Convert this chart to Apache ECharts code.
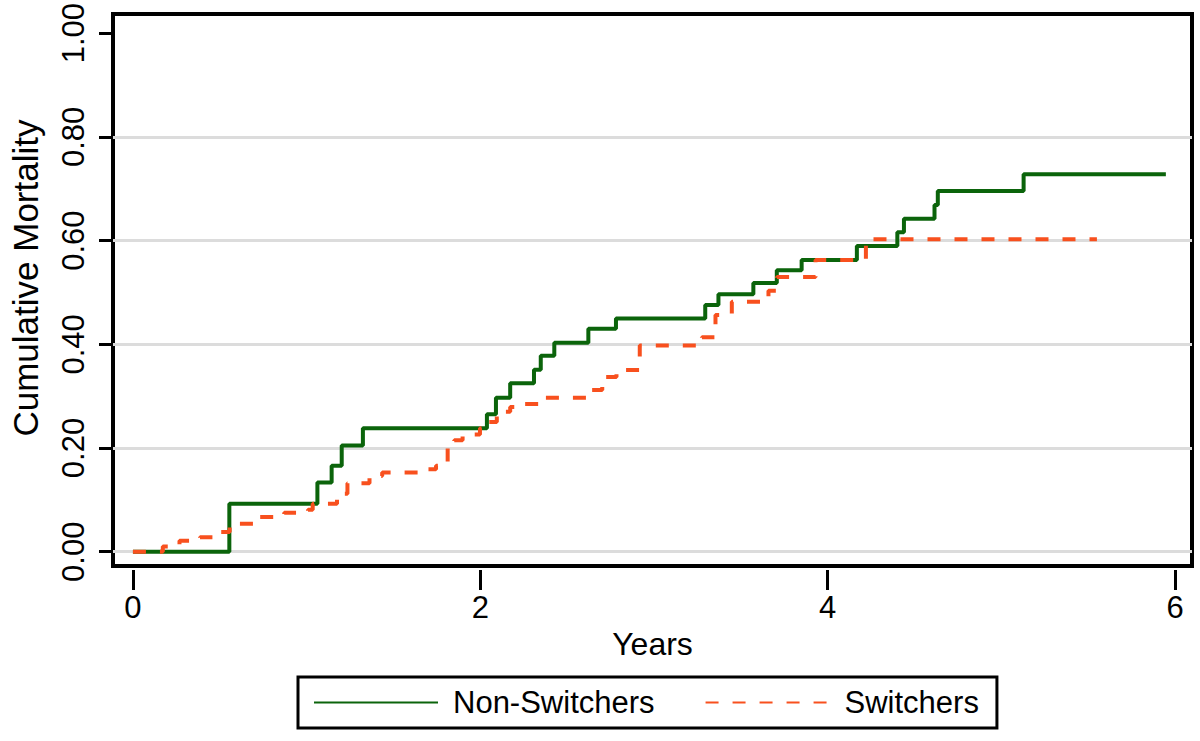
<!DOCTYPE html>
<html><head><meta charset="utf-8">
<script src="https://cdn.jsdelivr.net/npm/echarts@6/dist/echarts.min.js"></script>
<style>html,body{margin:0;padding:0;background:#fff}#c{width:1200px;height:741px}</style>
</head><body><div id="c"></div>
<script>
// ---- data ----
const seriesNames = ['Non-Switchers', 'Switchers'];
const nonSwitchTimes  = [0, 0.555, 1.062, 1.144, 1.202, 1.324, 2.038, 2.090, 2.172, 2.309, 2.348, 2.426, 2.622, 2.781, 3.295, 3.371, 3.572, 3.707, 3.850, 4.168, 4.401, 4.439, 4.615, 4.634, 5.128, 5.947];
const nonSwitchValues = [0, 0.0925, 0.1335, 0.166, 0.205, 0.238, 0.265, 0.297, 0.325, 0.351, 0.378, 0.403, 0.430, 0.450, 0.476, 0.4965, 0.518, 0.543, 0.5626, 0.5896, 0.616, 0.642, 0.6686, 0.6956, 0.728, 0.728];
const switchTimes  = [0, 0.172, 0.268, 0.386, 0.498, 0.557, 0.709, 0.871, 1.008, 1.035, 1.175, 1.235, 1.362, 1.435, 1.661, 1.745, 1.761, 1.812, 1.850, 1.898, 1.998, 2.050, 2.095, 2.130, 2.172, 2.220, 2.335, 2.620, 2.702, 2.784, 2.918, 3.276, 3.354, 3.448, 3.659, 3.708, 3.930, 4.220, 5.550];
const switchValues = [0, 0.010, 0.021, 0.028, 0.038, 0.054, 0.067, 0.075, 0.081, 0.0925, 0.112, 0.132, 0.146, 0.153, 0.159, 0.166, 0.174, 0.200, 0.215, 0.226, 0.238, 0.250, 0.261, 0.270, 0.279, 0.285, 0.297, 0.312, 0.337, 0.3507, 0.3975, 0.4137, 0.4566, 0.482, 0.5035, 0.530, 0.5626, 0.6025, 0.6025];
const xTickValues = [0, 2, 4, 6];
const yTickValues = [0, 0.2, 0.4, 0.6, 0.8, 1.0];
const yGridValues = [0, 0.2, 0.4, 0.6, 0.8];
const xTitle = 'Years';
const yTitle = 'Cumulative Mortality';

// ---- chart ----
const pairs = (t, v) => t.map((x, i) => [x, v[i]]);
const FONT = "'Liberation Sans', Arial, sans-serif";
const GREEN = '#0b640b', ORANGE = '#f8501e';

const chart = echarts.init(document.getElementById('c'), null, {renderer: 'svg', width: 1200, height: 741});
chart.setOption({
  animation: false,
  backgroundColor: '#fff',
  textStyle: {fontFamily: FONT, color: '#000'},
  grid: {left: 110, top: 13, width: 1082, height: 553, show: true, borderColor: '#000', borderWidth: 4, backgroundColor: '#fff'},
  xAxis: {
    type: 'value', min: -0.1148, max: 6.0975,
    position: 'bottom', offset: 4,
    name: xTitle, nameLocation: 'middle', nameGap: 46,
    nameTextStyle: {fontSize: 32, color: '#000', fontFamily: FONT},
    axisLine: {show: false, onZero: false},
    axisTick: {show: true, inside: false, customValues: xTickValues, length: 20, lineStyle: {color: '#000', width: 3}},
    axisLabel: {customValues: xTickValues, fontSize: 31, color: '#000', margin: 22, fontFamily: FONT},
    splitLine: {show: false}
  },
  yAxis: {
    type: 'value', min: -0.0275, max: 1.0368,
    position: 'left',
    name: yTitle, nameLocation: 'middle', nameRotate: 90, nameGap: 70,
    nameTextStyle: {fontSize: 35, color: '#000', fontFamily: FONT, padding: [0, 0, 0, 24]},
    axisLine: {show: false, onZero: false},
    axisTick: {show: true, inside: false, customValues: yTickValues, length: 14, lineStyle: {color: '#000', width: 3}},
    axisLabel: {customValues: yTickValues, rotate: 90, fontSize: 31, color: '#000', margin: 24, fontFamily: FONT,
                formatter: v => v.toFixed(2)},
    splitLine: {show: false}
  },
  legend: {
    data: seriesNames,
    left: 298, top: 677,
    orient: 'horizontal',
    borderColor: '#000', borderWidth: 3, borderRadius: 0,
    padding: [10, 18, 10, 15],
    itemWidth: 124, itemHeight: 14, itemGap: 50,
    itemStyle: {opacity: 0},
    textStyle: {fontSize: 31, color: '#000', fontFamily: FONT, padding: [0, 0, 0, 10]},
    selectedMode: false
  },
  series: [
    {
      type: 'line', name: 'grid', data: [], silent: true, z: 1,
      markLine: {
        silent: true, z: 1, symbol: ['none', 'none'], label: {show: false},
        lineStyle: {color: '#dcdcdc', width: 3, type: 'solid'},
        emphasis: {disabled: true},
        data: yGridValues.map(v => ({yAxis: v}))
      }
    },
    {
      type: 'line', name: seriesNames[0], step: 'end', symbol: 'none', showSymbol: false, z: 2,
      data: pairs(nonSwitchTimes, nonSwitchValues),
      lineStyle: {color: GREEN, width: 4},
      itemStyle: {color: GREEN}
    },
    {
      type: 'line', name: seriesNames[1], step: 'end', symbol: 'none', showSymbol: false, z: 3,
      data: pairs(switchTimes, switchValues),
      lineStyle: {color: ORANGE, width: 4, type: [13, 14]},
      itemStyle: {color: ORANGE}
    }
  ]
});
</script></body></html>
